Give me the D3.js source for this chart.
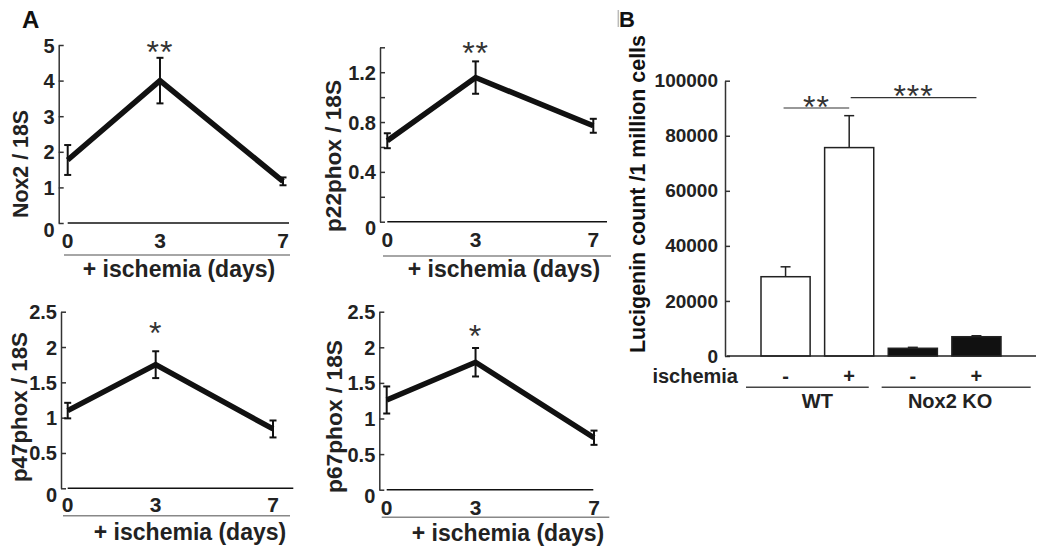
<!DOCTYPE html>
<html><head><meta charset="utf-8">
<script src="https://cdn.jsdelivr.net/npm/d3@7"></script>
<style>
html,body{margin:0;padding:0;background:#fff;}
svg{display:block;font-family:"Liberation Sans",Arial,Helvetica,sans-serif;}
</style>
</head><body>
<svg id="chart" width="1050" height="559"></svg>
<script>
// ---------------- DATA ----------------
const days = [0, 3, 7];
const dayTickLabels = ["0", "3", "7"];
const xAxisTitle = "+ ischemia (days)";

const nox2Mean = [1.77, 4.0, 1.17];
const nox2Err  = [0.42, 0.64, 0.11];
const p22Mean  = [0.65, 1.157, 0.77];
const p22Err   = [0.06, 0.13, 0.056];
const p47Mean  = [1.10, 1.75, 0.84];
const p47Err   = [0.11, 0.19, 0.12];
const p67Mean  = [1.26, 1.79, 0.73];
const p67Err   = [0.19, 0.20, 0.10];

const nox2Ticks = [0, 1, 2, 3, 4, 5];
const nox2TickLabels = ["0", "1", "2", "3", "4", "5"];
const p22Ticks = [0, 0.2, 0.4, 0.6, 0.8, 1.0, 1.2, 1.4];
const p22TickLabels = ["0", "", "0.4", "", "0.8", "", "1.2", ""];
const p47Ticks = [0, 0.5, 1, 1.5, 2, 2.5];
const p47TickLabels = ["0", "0.5", "1", "1.5", "2", "2.5"];
const p67Ticks = [0, 0.5, 1, 1.5, 2, 2.5];
const p67TickLabels = ["0", "0.5", "1", "1.5", "2", "2.5"];

const panelTitles = ["Nox2 / 18S", "p22phox / 18S", "p47phox / 18S", "p67phox / 18S"];
const panelStars = ["**", "**", "*", "*"];

const groups = ["WT-", "WT+", "KO-", "KO+"];
const lucigenin = [28800, 75700, 2800, 7000];
const lucigeninErr = [3600, 11600, 350, 350];
const ischemiaSigns = ["-", "+", "-", "+"];
const genotypes = ["WT", "Nox2 KO"];
const lucTicks = [0, 20000, 40000, 60000, 80000, 100000];
const lucTickLabels = ["0", "20000", "40000", "60000", "80000", "100000"];
const lucTitle = "Lucigenin count /1 million cells";
const sigLabels = ["**", "***"];

// ---------------- LAYOUT ----------------
const svg = d3.select("#chart");
const FONT_BOLD = 700;

const layouts = [
  {mean: nox2Mean, err: nox2Err, ticks: nox2Ticks, labels: nox2TickLabels, ymax: 5,
   x0: 67.7, x7: 283, y0: 223, yTop: 45, axisX: 58.7, baseEnd: 289,
   grayY: 255, grayX: [64, 290], tickBase: 248, titleX: 179, titleY: 277,
   ylabX: 28.3, ylabY: 164, ylabLen: 108, starY: 63},
  {mean: p22Mean, err: p22Err, ticks: p22Ticks, labels: p22TickLabels, ymax: 1.4,
   x0: 387.3, x7: 593.3, y0: 221.7, yTop: 47.3, axisX: 380, baseEnd: 607,
   grayY: 256, grayX: [383, 611], tickBase: 247, titleX: 504, titleY: 277,
   ylabX: 340.5, ylabY: 156, ylabLen: 152, starY: 64},
  {mean: p47Mean, err: p47Err, ticks: p47Ticks, labels: p47TickLabels, ymax: 2.5,
   x0: 67.7, x7: 273, y0: 488.3, yTop: 311.7, axisX: 61, baseEnd: 293.3,
   grayY: 515.7, grayX: [63, 290], tickBase: 511.7, titleX: 190, titleY: 540,
   ylabX: 26.7, ylabY: 407, ylabLen: 150, starY: 344},
  {mean: p67Mean, err: p67Err, ticks: p67Ticks, labels: p67TickLabels, ymax: 2.5,
   x0: 386.7, x7: 594, y0: 489.7, yTop: 311.7, axisX: 379.3, baseEnd: 593.3,
   grayY: 517.3, grayX: [381.7, 609.3], tickBase: 515, titleX: 508, titleY: 540.7,
   ylabX: 341.5, ylabY: 416.5, ylabLen: 153, starY: 347}
];

layouts.forEach((L, idx) => {
  const g = svg.append("g");
  const x = d3.scaleLinear().domain([days[0], days[2]]).range([L.x0, L.x7]);
  const y = d3.scaleLinear().domain([0, L.ymax]).range([L.y0, L.yTop]);

  // y axis
  const ax = g.append("g").attr("transform", `translate(${L.axisX},0)`)
    .call(d3.axisLeft(y).tickValues(L.ticks).tickSize(-5).tickSizeOuter(0).tickPadding(4)
      .tickFormat((d, i) => L.labels[i]));
  ax.select(".domain").attr("stroke", "#333").attr("stroke-width", 1.5);
  ax.selectAll(".tick line").attr("stroke", "#333").attr("stroke-width", 1.5);
  ax.selectAll(".tick text").attr("font-size", 20).attr("font-weight", FONT_BOLD)
    .attr("fill", "#222").attr("font-family", null)
    .attr("dy", d => d === 0 ? "0.65em" : "0.35em");

  // baseline
  g.append("line").attr("x1", x(0)).attr("x2", L.baseEnd).attr("y1", y(0)).attr("y2", y(0))
    .attr("stroke", "#111").attr("stroke-width", 1.5);

  // x tick labels
  g.selectAll(".xt").data(days).enter().append("text")
    .attr("x", d => x(d)).attr("y", L.tickBase).attr("text-anchor", "middle")
    .attr("font-size", 21).attr("font-weight", FONT_BOLD).attr("fill", "#222")
    .text((d, i) => dayTickLabels[i]);

  // gray separator and x title
  g.append("line").attr("x1", L.grayX[0]).attr("x2", L.grayX[1]).attr("y1", L.grayY).attr("y2", L.grayY)
    .attr("stroke", "#888").attr("stroke-width", 1.5);
  g.append("text").attr("x", L.titleX).attr("y", L.titleY).attr("text-anchor", "middle")
    .attr("font-size", 23).attr("font-weight", FONT_BOLD).attr("fill", "#222").text(xAxisTitle);

  // y title
  g.append("text").attr("transform", `translate(${L.ylabX},${L.ylabY}) rotate(-90)`)
    .attr("text-anchor", "middle").attr("font-size", 22).attr("font-weight", FONT_BOLD)
    .attr("fill", "#222").attr("textLength", L.ylabLen).attr("lengthAdjust", "spacingAndGlyphs")
    .text(panelTitles[idx]);

  // line
  const pts = days.map((d, i) => [d, L.mean[i], L.err[i]]);
  g.append("path").datum(pts)
    .attr("d", d3.line().x(d => x(d[0])).y(d => y(d[1])))
    .attr("fill", "none").attr("stroke", "#111").attr("stroke-width", 5.5)
    .attr("stroke-linejoin", "miter");

  // error bars
  const eb = g.selectAll(".eb").data(pts).enter().append("g");
  eb.append("line").attr("x1", d => x(d[0])).attr("x2", d => x(d[0]))
    .attr("y1", d => y(d[1] - d[2])).attr("y2", d => y(d[1] + d[2]))
    .attr("stroke", "#111").attr("stroke-width", 2);
  [-1, 1].forEach(s => {
    eb.append("line").attr("x1", d => x(d[0]) - 3.5).attr("x2", d => x(d[0]) + 3.5)
      .attr("y1", d => y(d[1] + s * d[2])).attr("y2", d => y(d[1] + s * d[2]))
      .attr("stroke", "#111").attr("stroke-width", 2);
  });

  // star
  g.append("text").attr("x", x(days[1])).attr("y", L.starY).attr("text-anchor", "middle")
    .attr("font-size", 32).attr("letter-spacing", 1).attr("fill", "#333").text(panelStars[idx]);
});

// panel letters
svg.append("text").attr("x", 22).attr("y", 28).attr("font-size", 24).attr("font-weight", FONT_BOLD)
  .attr("fill", "#111").text("A");
svg.append("text").attr("x", 619).attr("y", 27).attr("font-size", 22).attr("font-weight", FONT_BOLD)
  .attr("fill", "#111").text("B");
svg.append("line").attr("x1", 618.3).attr("x2", 618.3).attr("y1", 10).attr("y2", 27)
  .attr("stroke", "#bbb").attr("stroke-width", 1.5);

// ---------------- PANEL B ----------------
const B = {axisX: 725, y0: 356, yTop: 80.7, baseEnd: 1036, bandRange: [753.75, 1008.25],
  signY: 383.3, ischX: 738, groupLineY: 387.3,
  groupLines: [[-15, 0, 1, -5], [-6.6, 2, 3, 29.7]],
  groupLabelY: 408.3, groupLabelDx: [0, 5.5],
  titleX: 645, titleY: 194, titleLen: 318};

const gb = svg.append("g");
const xb = d3.scaleBand().domain(groups).range(B.bandRange).paddingInner(0.228).paddingOuter(0.114);
const yb = d3.scaleLinear().domain([0, 100000]).range([B.y0, B.yTop]);
const bw = xb.bandwidth();
const cx = g => xb(g) + bw / 2;

const axB = gb.append("g").attr("transform", `translate(${B.axisX},0)`)
  .call(d3.axisLeft(yb).tickValues(lucTicks).tickSize(-5).tickSizeOuter(0).tickPadding(7)
    .tickFormat((d, i) => lucTickLabels[i]));
axB.select(".domain").attr("stroke", "#333").attr("stroke-width", 1.5);
axB.selectAll(".tick line").attr("stroke", "#333").attr("stroke-width", 1.5);
axB.selectAll(".tick text").attr("font-size", 19).attr("font-weight", FONT_BOLD)
  .attr("fill", "#222").attr("font-family", null);

// bars
gb.selectAll(".bar").data(groups).enter().append("rect")
  .attr("x", d => xb(d)).attr("width", bw)
  .attr("y", (d, i) => yb(lucigenin[i])).attr("height", (d, i) => yb(0) - yb(lucigenin[i]))
  .attr("fill", (d, i) => i < 2 ? "#fff" : "#111").attr("stroke", "#222").attr("stroke-width", 1.5);

// error bars (upper only)
groups.forEach((g, i) => {
  const top = yb(lucigenin[i] + lucigeninErr[i]);
  gb.append("line").attr("x1", cx(g)).attr("x2", cx(g)).attr("y1", yb(lucigenin[i])).attr("y2", top)
    .attr("stroke", "#222").attr("stroke-width", 1.5);
  gb.append("line").attr("x1", cx(g) - 5).attr("x2", cx(g) + 5).attr("y1", top).attr("y2", top)
    .attr("stroke", "#222").attr("stroke-width", 1.5);
});

// baseline
gb.append("line").attr("x1", B.axisX + 1.7).attr("x2", B.baseEnd).attr("y1", B.y0).attr("y2", B.y0)
  .attr("stroke", "#222").attr("stroke-width", 1.5);

// significance brackets
const brackets = [
  {from: cx(groups[0]) - 2, to: cx(groups[1]), y: 108, ty: 118},
  {from: cx(groups[1]) + 1.5, to: cx(groups[3]), y: 97.7, ty: 106.5}
];
brackets.forEach((b, i) => {
  gb.append("line").attr("x1", b.from).attr("x2", b.to).attr("y1", b.y).attr("y2", b.y)
    .attr("stroke", "#333").attr("stroke-width", 1.2);
  gb.append("text").attr("x", (b.from + b.to) / 2).attr("y", b.ty).attr("text-anchor", "middle")
    .attr("font-size", 32).attr("letter-spacing", 1).attr("fill", "#333").text(sigLabels[i]);
});

// ischemia row
gb.append("text").attr("x", B.ischX).attr("y", B.signY).attr("text-anchor", "end")
  .attr("font-size", 20).attr("font-weight", FONT_BOLD).attr("fill", "#222").text("ischemia");
gb.selectAll(".sign").data(groups).enter().append("text")
  .attr("x", d => cx(d)).attr("y", B.signY).attr("text-anchor", "middle")
  .attr("font-size", 20).attr("font-weight", FONT_BOLD).attr("fill", "#222")
  .text((d, i) => ischemiaSigns[i]);

// genotype lines + labels
B.groupLines.forEach((gl, k) => {
  const a = groups[gl[1]], b = groups[gl[2]];
  gb.append("line").attr("x1", xb(a) + gl[0]).attr("x2", xb(b) + bw + gl[3])
    .attr("y1", B.groupLineY).attr("y2", B.groupLineY).attr("stroke", "#444").attr("stroke-width", 1.5);
  gb.append("text").attr("x", (cx(a) + cx(b)) / 2 + B.groupLabelDx[k]).attr("y", B.groupLabelY)
    .attr("text-anchor", "middle").attr("font-size", 20).attr("font-weight", FONT_BOLD)
    .attr("fill", "#222").text(genotypes[k]);
});

// y title
gb.append("text").attr("transform", `translate(${B.titleX},${B.titleY}) rotate(-90)`)
  .attr("text-anchor", "middle").attr("font-size", 22).attr("font-weight", FONT_BOLD)
  .attr("fill", "#111").attr("textLength", B.titleLen).attr("lengthAdjust", "spacingAndGlyphs")
  .text(lucTitle);
</script>
</body></html>
